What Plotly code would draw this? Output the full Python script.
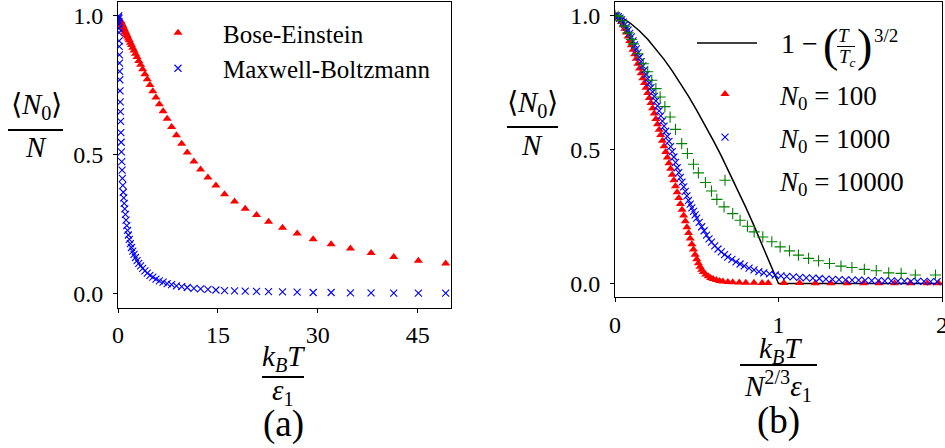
import plotly.graph_objects as go

# ---------------- panel (a): N0/N against kT/eps1 ----------------
be_x = [0.30, 0.33, 0.36, 0.39, 0.43, 0.47, 0.51, 0.56, 0.61, 0.66, 0.72, 0.79, 0.86, 0.93,
        1.02, 1.11, 1.21, 1.32, 1.43, 1.56, 1.70, 1.86, 2.02, 2.21, 2.41, 2.62, 2.86, 3.12,
        3.40, 3.70, 4.04, 4.40, 4.80, 5.23, 5.70, 6.21, 6.77, 7.38, 8.05, 8.77, 9.56, 10.4,
        11.4, 12.4, 13.5, 14.7, 16.0, 17.5, 19.1, 20.8, 22.6, 24.7, 26.9, 29.3, 32.0, 34.9,
        38.0, 41.4, 45.1, 49.2]
be_y = [0.984, 0.983, 0.981, 0.980, 0.978, 0.976, 0.973, 0.971, 0.968, 0.966, 0.963, 0.959,
        0.955, 0.952, 0.947, 0.942, 0.937, 0.931, 0.926, 0.919, 0.912, 0.903, 0.895, 0.885,
        0.875, 0.864, 0.852, 0.838, 0.824, 0.808, 0.790, 0.772, 0.751, 0.729, 0.706, 0.682,
        0.657, 0.630, 0.600, 0.570, 0.540, 0.508, 0.476, 0.447, 0.418, 0.389, 0.358, 0.332,
        0.306, 0.283, 0.259, 0.237, 0.216, 0.196, 0.178, 0.162, 0.146, 0.132, 0.118, 0.108]

mb_x = [0.10, 0.11, 0.12, 0.13, 0.14, 0.15, 0.16, 0.18, 0.19, 0.21, 0.23, 0.25, 0.27, 0.30,
        0.33, 0.36, 0.39, 0.43, 0.47, 0.51, 0.56, 0.61, 0.66, 0.72, 0.79, 0.86, 0.93, 1.02,
        1.11, 1.21, 1.32, 1.43, 1.56, 1.70, 1.86, 2.02, 2.21, 2.41, 2.62, 2.86, 3.12, 3.40,
        3.70, 4.04, 4.40, 4.80, 5.23, 5.70, 6.21, 6.77, 7.38, 8.05, 8.77, 9.56, 10.4, 11.4,
        12.4, 13.5, 14.7, 16.0, 17.5, 19.1, 20.8, 22.6, 24.7, 26.9, 29.3, 32.0, 34.9, 38.0,
        41.4, 45.1, 49.2]
mb_y = [1.000, 0.995, 0.990, 0.980, 0.970, 0.955, 0.940, 0.910, 0.890, 0.860, 0.830, 0.800,
        0.770, 0.730, 0.690, 0.655, 0.620, 0.580, 0.545, 0.510, 0.475, 0.445, 0.415, 0.390,
        0.365, 0.345, 0.325, 0.305, 0.285, 0.265, 0.245, 0.228, 0.211, 0.195, 0.180, 0.166,
        0.153, 0.141, 0.130, 0.119, 0.109, 0.100, 0.091, 0.082, 0.074, 0.066, 0.059, 0.052,
        0.046, 0.041, 0.036, 0.032, 0.028, 0.025, 0.022, 0.019, 0.017, 0.015, 0.013, 0.011,
        0.010, 0.009, 0.008, 0.007, 0.006, 0.005, 0.004, 0.004, 0.003, 0.003, 0.002, 0.002,
        0.002]

# ---------------- panel (b): scaled temperature ----------------
tc_x = [0.0, 0.05, 0.1, 0.15, 0.2, 0.25, 0.3, 0.35, 0.4, 0.45, 0.5, 0.55, 0.6, 0.65, 0.7,
        0.75, 0.8, 0.85, 0.9, 0.95, 1.0, 2.0]
tc_y = [1.0, 0.989, 0.968, 0.942, 0.911, 0.875, 0.836, 0.793, 0.747, 0.698, 0.646, 0.592,
        0.535, 0.476, 0.414, 0.350, 0.284, 0.216, 0.146, 0.074, 0.0, 0.0]

n100_x = [0.000, 0.010, 0.020, 0.030, 0.040, 0.050, 0.060, 0.070, 0.080, 0.090, 0.100, 0.110,
          0.120, 0.130, 0.140, 0.150, 0.160, 0.170, 0.180, 0.190, 0.200, 0.210, 0.220, 0.230,
          0.240, 0.250, 0.260, 0.270, 0.280, 0.290, 0.300, 0.310, 0.320, 0.330, 0.340, 0.350,
          0.360, 0.370, 0.380, 0.390, 0.400, 0.410, 0.420, 0.430, 0.440, 0.450, 0.460, 0.470,
          0.480, 0.490, 0.500, 0.510, 0.520, 0.530, 0.540, 0.555, 0.570, 0.585, 0.600, 0.620,
          0.640, 0.660, 0.690, 0.720, 0.760, 0.800, 0.850, 0.900, 0.937, 1.033, 1.129, 1.225,
          1.320, 1.420, 1.520, 1.616, 1.710, 1.806, 1.909, 1.980]
n100_y = [1.000, 0.998, 0.993, 0.985, 0.975, 0.963, 0.950, 0.936, 0.921, 0.905, 0.889, 0.872,
          0.855, 0.838, 0.820, 0.802, 0.784, 0.766, 0.748, 0.730, 0.711, 0.692, 0.673, 0.654,
          0.634, 0.614, 0.594, 0.574, 0.554, 0.533, 0.512, 0.491, 0.470, 0.449, 0.428, 0.406,
          0.385, 0.363, 0.341, 0.319, 0.297, 0.275, 0.254, 0.232, 0.210, 0.189, 0.168, 0.147,
          0.127, 0.108, 0.091, 0.076, 0.063, 0.052, 0.043, 0.034, 0.027, 0.021, 0.017, 0.013,
          0.010, 0.008, 0.006, 0.005, 0.004, 0.003, 0.003, 0.002, 0.002, 0.002, 0.002, 0.001,
          0.001, 0.001, 0.001, 0.001, 0.001, 0.001, 0.001, 0.001]

n1000_x = [0.000, 0.010, 0.020, 0.030, 0.040, 0.050, 0.060, 0.070, 0.080, 0.090, 0.100, 0.110,
           0.120, 0.130, 0.140, 0.150, 0.160, 0.170, 0.180, 0.190, 0.200, 0.210, 0.220, 0.230,
           0.240, 0.250, 0.260, 0.270, 0.280, 0.290, 0.300, 0.310, 0.320, 0.330, 0.340, 0.350,
           0.360, 0.370, 0.380, 0.390, 0.400, 0.410, 0.420, 0.430, 0.440, 0.450, 0.460, 0.470,
           0.480, 0.490, 0.500, 0.515, 0.530, 0.545, 0.560, 0.575, 0.590, 0.610, 0.630, 0.650,
           0.670, 0.690, 0.715, 0.740, 0.765, 0.790, 0.820, 0.850, 0.880, 0.910, 0.945, 0.980,
           1.015, 1.050, 1.090, 1.130, 1.170, 1.210, 1.250, 1.290, 1.330, 1.370, 1.410, 1.450,
           1.490, 1.530, 1.570, 1.610, 1.650, 1.690, 1.730, 1.770, 1.810, 1.850, 1.890, 1.930,
           1.970]
n1000_y = [1.000, 0.998, 0.995, 0.990, 0.983, 0.975, 0.966, 0.956, 0.945, 0.933, 0.920, 0.905,
           0.890, 0.875, 0.860, 0.844, 0.828, 0.812, 0.796, 0.780, 0.764, 0.748, 0.731, 0.715,
           0.698, 0.681, 0.663, 0.644, 0.625, 0.606, 0.587, 0.568, 0.549, 0.530, 0.511, 0.492,
           0.472, 0.452, 0.432, 0.414, 0.396, 0.378, 0.361, 0.344, 0.327, 0.310, 0.296, 0.282,
           0.269, 0.256, 0.244, 0.228, 0.212, 0.197, 0.181, 0.167, 0.155, 0.141, 0.129, 0.118,
           0.108, 0.099, 0.090, 0.081, 0.073, 0.066, 0.058, 0.051, 0.045, 0.040, 0.036, 0.032,
           0.029, 0.027, 0.025, 0.023, 0.021, 0.020, 0.019, 0.017, 0.016, 0.015, 0.014, 0.013,
           0.013, 0.012, 0.011, 0.011, 0.010, 0.010, 0.009, 0.009, 0.008, 0.008, 0.008, 0.007,
           0.007]

n10000_x = [0.000, 0.020, 0.040, 0.060, 0.080, 0.100, 0.112, 0.140, 0.173, 0.200, 0.225, 0.250,
            0.276, 0.305, 0.337, 0.370, 0.408, 0.443, 0.480, 0.510, 0.553, 0.590, 0.623, 0.667,
            0.720, 0.765, 0.810, 0.851, 0.904, 0.959, 1.010, 1.067, 1.122, 1.184, 1.245, 1.312,
            1.382, 1.449, 1.525, 1.598, 1.674, 1.750, 1.837, 1.960]
n10000_y = [1.000, 0.995, 0.980, 0.960, 0.935, 0.910, 0.894, 0.857, 0.820, 0.790, 0.758, 0.727,
            0.696, 0.660, 0.621, 0.575, 0.522, 0.485, 0.445, 0.413, 0.377, 0.345, 0.314, 0.286,
            0.261, 0.236, 0.214, 0.193, 0.174, 0.156, 0.137, 0.122, 0.106, 0.094, 0.085, 0.075,
            0.065, 0.060, 0.053, 0.048, 0.040, 0.038, 0.032, 0.032]

W, H = 945, 448
SERIF = "Liberation Serif, Times New Roman, serif"


def px(x):
    return x / W


def py(y):
    return 1 - y / H


fig = go.Figure()

# panel (a) markers
fig.add_trace(go.Scatter(x=be_x, y=be_y, mode="markers", name="Bose-Einstein",
                         xaxis="x", yaxis="y", legend="legend", legendgroup="be",
                         marker=dict(symbol="triangle-up", size=8, color="#ff0000",
                                     line=dict(width=0))))
fig.add_trace(go.Scatter(x=mb_x, y=mb_y, mode="markers", name="Maxwell-Boltzmann",
                         xaxis="x", yaxis="y", legend="legend", legendgroup="mb",
                         marker=dict(symbol="x-thin", size=7, color="#0000ff",
                                     line=dict(width=1.1, color="#0000ff"))))

# panel (b): condensate fraction in the thermodynamic limit, then the three particle numbers
fig.add_trace(go.Scatter(x=tc_x, y=tc_y, mode="lines", showlegend=False,
                         xaxis="x2", yaxis="y2", line=dict(color="black", width=1.5)))
fig.add_trace(go.Scatter(x=n100_x, y=n100_y, mode="markers",
                         name="<i>N</i><sub>0</sub> = 100",
                         xaxis="x2", yaxis="y2", legend="legend2", legendgroup="n1",
                         marker=dict(symbol="triangle-up", size=8, color="#ff0000",
                                     line=dict(width=0))))
fig.add_trace(go.Scatter(x=n1000_x, y=n1000_y, mode="markers",
                         name="<i>N</i><sub>0</sub> = 1000",
                         xaxis="x2", yaxis="y2", legend="legend2", legendgroup="n2",
                         marker=dict(symbol="x-thin", size=7, color="#0000ff",
                                     line=dict(width=1.1, color="#0000ff"))))
fig.add_trace(go.Scatter(x=n10000_x, y=n10000_y, mode="markers",
                         name="<i>N</i><sub>0</sub> = 10000",
                         xaxis="x2", yaxis="y2", legend="legend2", legendgroup="n3",
                         marker=dict(symbol="cross-thin", size=8, color="#008000",
                                     line=dict(width=1.1, color="#008000"))))

axis_common = dict(showline=True, mirror=True, linecolor="black", linewidth=1,
                   ticks="outside", ticklen=4, tickwidth=1, tickcolor="black",
                   showgrid=False, zeroline=False, automargin=False,
                   tickfont=dict(family=SERIF, size=24, color="black"))

fig.update_layout(
    width=W, height=H,
    margin=dict(l=0, r=0, t=0, b=0, autoexpand=False),
    paper_bgcolor="white", plot_bgcolor="white",
    font=dict(family=SERIF, color="black"),
    xaxis=dict(domain=[px(118), px(451)], range=[0, 50], tickvals=[0, 15, 30, 45],
               anchor="y", ticklabelstandoff=2, **axis_common),
    yaxis=dict(domain=[py(307.5), py(2)], range=[-0.05, 1.05], tickvals=[0, 0.5, 1.0],
               ticktext=["0.0", "0.5", "1.0"], anchor="x", ticklabelstandoff=5,
               **axis_common),
    xaxis2=dict(domain=[px(615), px(942)], range=[0, 2], tickvals=[0, 1, 2],
                anchor="y2", ticklabelstandoff=2, ticklabeloverflow="allow",
                **axis_common),
    yaxis2=dict(domain=[py(297), py(2)], range=[-0.05, 1.05], tickvals=[0, 0.5, 1.0],
                ticktext=["0.0", "0.5", "1.0"], anchor="x2", ticklabelstandoff=5,
                **axis_common),
    legend=dict(x=px(133), y=py(10), xanchor="left", yanchor="top",
                bgcolor="rgba(0,0,0,0)", borderwidth=0, itemwidth=80,
                tracegroupgap=0, font=dict(family=SERIF, size=25, color="black")),
    legend2=dict(x=px(670), y=py(70), xanchor="left", yanchor="top",
                 bgcolor="rgba(0,0,0,0)", borderwidth=0, itemwidth=100,
                 tracegroupgap=5, font=dict(family=SERIF, size=27, color="black")),
)

ann = []
shapes = []


def label(x, y, text, size):
    ann.append(dict(x=px(x), y=py(y), xref="paper", yref="paper", text=text,
                    showarrow=False, xanchor="center", yanchor="middle",
                    font=dict(family=SERIF, size=size, color="black")))


def bar(x0, x1, y, width=2):
    shapes.append(dict(type="line", xref="paper", yref="paper", x0=px(x0), x1=px(x1),
                       y0=py(y), y1=py(y), line=dict(color="black", width=width)))


# y-axis fractions
label(36, 106, "⟨<i>N</i><sub>0</sub>⟩", 29)
bar(8, 63, 130)
label(36, 147, "<i>N</i>", 29)
label(532, 104, "⟨<i>N</i><sub>0</sub>⟩", 29)
bar(507, 558, 127)
label(532, 145, "<i>N</i>", 29)

# x-axis fractions and panel tags
label(283, 358, "<i>k</i><sub><i>B</i></sub><i>T</i>", 29)
bar(262, 304, 377)
label(283, 392, "<i>ε</i><sub>1</sub>", 29)
label(283, 424, "(a)", 37)
label(780, 350, "<i>k</i><sub><i>B</i></sub><i>T</i>", 29)
bar(740, 817, 365)
label(778, 386, "<i>N</i><sup>2/3</sup><i>ε</i><sub>1</sub>", 29)
label(778, 421, "(b)", 37)

# legend entry for the thermodynamic-limit curve
bar(697, 757, 43, 1.5)
label(799, 43, "1 −", 28)
label(830, 46, "(", 46)
label(844, 35, "<i>T</i>", 19)
bar(837, 855, 46.5, 1)
label(847, 58, "<i>T<sub>c</sub></i>", 19)
label(864, 46, ")", 46)
label(886, 35, "3/2", 19)

fig.update_layout(annotations=ann, shapes=shapes)
fig.write_html("out.html")
